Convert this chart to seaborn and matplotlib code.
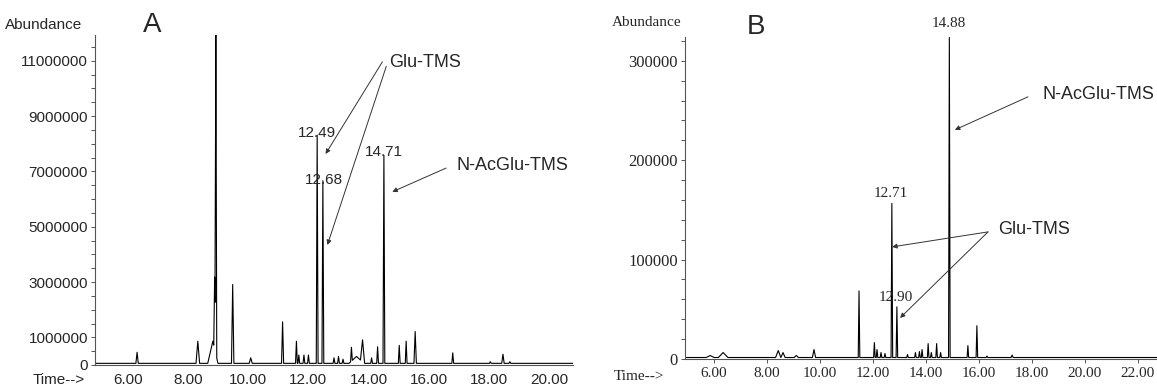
import matplotlib
matplotlib.use("Agg")
import matplotlib.pyplot as plt
from matplotlib.ticker import MultipleLocator, FixedLocator, FuncFormatter
from matplotlib.transforms import ScaledTranslation
import seaborn as sns
import pandas as pd
import numpy as np

# ---- panel A: peaks (min, abundance, half width in min)
a_times   = [6.50, 8.52, 9.02, 9.08, 9.12, 9.68, 10.28, 11.34, 11.80, 11.88, 12.05,
             12.20, 12.49, 12.68, 13.05, 13.20, 13.35, 13.63, 13.80, 14.00, 14.30,
             14.50, 14.71, 15.22, 15.45, 15.75, 17.00, 18.25, 18.67, 18.90]
a_heights = [0.40e6, 0.80e6, 0.80e6, 2.60e6, 11.95e6, 2.85e6, 0.20e6, 1.50e6, 0.80e6, 0.30e6, 0.30e6,
             0.30e6, 8.25e6, 6.60e6, 0.20e6, 0.25e6, 0.15e6, 0.50e6, 0.25e6, 0.80e6, 0.20e6,
             0.60e6, 7.52e6, 0.65e6, 0.80e6, 1.15e6, 0.38e6, 0.06e6, 0.33e6, 0.06e6]
a_widths  = [0.04, 0.06, 0.17, 0.03, 0.03, 0.04, 0.05, 0.035, 0.03, 0.03, 0.03,
             0.03, 0.03, 0.03, 0.03, 0.03, 0.03, 0.03, 0.25, 0.07, 0.03,
             0.03, 0.03, 0.03, 0.03, 0.04, 0.03, 0.03, 0.04, 0.03]
a_base = 60000
# retention-time labels: (time, height of the text centre)
a_labels = {"12.49": (12.49, 8.39e6), "12.68": (12.70, 6.69e6), "14.71": (14.71, 7.70e6)}

# ---- panel B
b_times   = [5.85, 6.34, 8.42, 8.60, 9.10, 9.77, 11.47, 12.05, 12.15, 12.30, 12.45,
             12.71, 12.90, 13.30, 13.60, 13.75, 13.85, 14.08, 14.20, 14.40, 14.55,
             14.88, 15.58, 15.92, 16.30, 17.25]
b_heights = [2000, 5000, 7000, 5000, 2000, 8000, 67000, 15000, 8000, 5000, 4000,
             155000, 51000, 3000, 5000, 6000, 8000, 14000, 5000, 14000, 5000,
             322000, 12000, 32000, 1500, 2500]
b_widths  = [0.15, 0.18, 0.10, 0.08, 0.08, 0.06, 0.03, 0.03, 0.03, 0.03, 0.03,
             0.03, 0.03, 0.03, 0.03, 0.03, 0.03, 0.03, 0.03, 0.03, 0.03,
             0.03, 0.03, 0.03, 0.03, 0.04]
b_base = 1500
b_labels = {"14.88": (14.86, 338000), "12.71": (12.66, 167000), "12.90": (12.86, 61400)}


def build_trace(times, heights, widths, base, xmin, xmax):
    # sum of narrow triangular peaks, evaluated at every breakpoint
    xs = {xmin, xmax}
    for t, w in zip(times, widths):
        xs.update([t - w, t, t + w])
    xs = np.array(sorted(x for x in xs if xmin <= x <= xmax))
    ys = np.full_like(xs, float(base))
    for t, h, w in zip(times, heights, widths):
        ys += h * np.clip(1 - np.abs(xs - t) / w, 0, None)
    return pd.DataFrame({"time": xs, "abundance": ys})


sns.set_style("ticks")
SANS = ["Liberation Sans", "DejaVu Sans"]
SERIF = ["Liberation Serif", "DejaVu Serif"]
plt.rcParams["font.family"] = SANS

W, H = 1157, 388
fig = plt.figure(figsize=(W / 100, H / 100), dpi=100)
axA = fig.add_axes([95 / W, 1 - 365 / H, (573 - 95) / W, (365 - 35) / H])
axB = fig.add_axes([685 / W, 1 - 359 / H, (1157 - 685) / W, (359 - 37) / H])

# ---------------- panel A ----------------
xa = (5.1, 21.0)
dfA = build_trace(a_times, a_heights, a_widths, a_base, *xa)
sns.lineplot(data=dfA, x="time", y="abundance", ax=axA, color="black",
             lw=0.8, estimator=None, sort=False)
axA.set_xlim(*xa)
axA.set_ylim(0, 11.93e6)
axA.xaxis.set_major_locator(FixedLocator([6, 8, 10, 12, 14, 16, 18, 20]))
axA.xaxis.set_major_formatter(FuncFormatter(lambda v, p: f"{v:.2f}"))
axA.yaxis.set_major_locator(MultipleLocator(500000))
axA.yaxis.set_major_formatter(FuncFormatter(
    lambda v, p: f"{int(round(v))}" if (round(v) == 0 or (round(v / 1e6) % 2 == 1 and abs(v / 1e6 - round(v / 1e6)) < 1e-6)) else ""))
axA.tick_params(axis="y", length=3, width=0.7, labelsize=11, pad=2, color="#555555")
axA.tick_params(axis="x", length=0, labelsize=11, pad=6)
# the printed time labels sit a little right of their ticks
shift = ScaledTranslation(6 / 100, 0, fig.dpi_scale_trans)
for lab in axA.get_xticklabels():
    lab.set_transform(lab.get_transform() + shift)
for s in ["top", "right"]:
    axA.spines[s].set_visible(False)
for s in ["left", "bottom"]:
    axA.spines[s].set_color("#555555")
    axA.spines[s].set_linewidth(0.8)
axA.set_xlabel("")
axA.set_ylabel("")

for txt, (t, y) in a_labels.items():
    axA.text(t, y, txt, ha="center", va="center", fontsize=11)

arrow = dict(arrowstyle="-|>", color="#333333", lw=0.7, mutation_scale=7, shrinkA=0, shrinkB=0)
axA.text(14.89, 10.92e6, "Glu-TMS", fontsize=13, ha="left", va="center")
axA.annotate("", xy=(12.77, 7.63e6), xytext=(14.66, 10.96e6), arrowprops=arrow)
axA.annotate("", xy=(12.83, 4.34e6), xytext=(14.79, 10.80e6), arrowprops=arrow)
axA.text(17.11, 7.20e6, "N-AcGlu-TMS", fontsize=13, ha="left", va="center")
axA.annotate("", xy=(14.99, 6.26e6), xytext=(16.78, 7.12e6), arrowprops=arrow)

fig.text(5 / W, 1 - 25 / H, "Abundance", fontsize=11, ha="left", va="center")
fig.text(152 / W, 1 - 25 / H, "A", fontsize=20, ha="center", va="center")
fig.text(33 / W, 1 - 380 / H, "Time-->", fontsize=11, ha="left", va="center")

# ---------------- panel B ----------------
xb = (4.9, 22.72)
dfB = build_trace(b_times, b_heights, b_widths, b_base, *xb)
sns.lineplot(data=dfB, x="time", y="abundance", ax=axB, color="black",
             lw=0.8, estimator=None, sort=False)
axB.set_xlim(*xb)
axB.set_ylim(0, 324000)
axB.xaxis.set_major_locator(FixedLocator([6, 8, 10, 12, 14, 16, 18, 20, 22]))
axB.xaxis.set_major_formatter(FuncFormatter(lambda v, p: f"{v:.2f}"))
axB.yaxis.set_major_locator(MultipleLocator(100000))
axB.yaxis.set_minor_locator(MultipleLocator(20000))
axB.yaxis.set_major_formatter(FuncFormatter(lambda v, p: f"{int(round(v))}"))
axB.tick_params(axis="y", which="both", length=3, width=0.7, labelsize=12, pad=2, color="#555555")
axB.tick_params(axis="x", length=3, width=0.7, labelsize=11, pad=3, color="#555555")
for lab in axB.get_xticklabels() + axB.get_yticklabels():
    lab.set_family(SERIF)
for s in ["top", "right"]:
    axB.spines[s].set_visible(False)
for s in ["left", "bottom"]:
    axB.spines[s].set_color("#555555")
    axB.spines[s].set_linewidth(0.8)
axB.set_xlabel("")
axB.set_ylabel("")

for txt, (t, y) in b_labels.items():
    axB.text(t, y, txt, ha="center", va="center", fontsize=11, family=SERIF, clip_on=False)

axB.text(18.38, 266000, "N-AcGlu-TMS", fontsize=13, ha="left", va="center")
axB.annotate("", xy=(15.09, 230600), xytext=(17.85, 263800), arrowprops=arrow)
axB.text(16.72, 130000, "Glu-TMS", fontsize=13, ha="left", va="center")
axB.annotate("", xy=(12.72, 112800), xytext=(16.34, 127900), arrowprops=arrow)
axB.annotate("", xy=(13.02, 41300), xytext=(16.34, 127900), arrowprops=arrow)

fig.text(612 / W, 1 - 22 / H, "Abundance", fontsize=11, ha="left", va="center", family=SERIF)
fig.text(756 / W, 1 - 27 / H, "B", fontsize=20, ha="center", va="center")
fig.text(664 / W, 1 - 376 / H, "Time-->", fontsize=11, ha="right", va="center", family=SERIF)

fig.savefig("out.png", dpi=100)
